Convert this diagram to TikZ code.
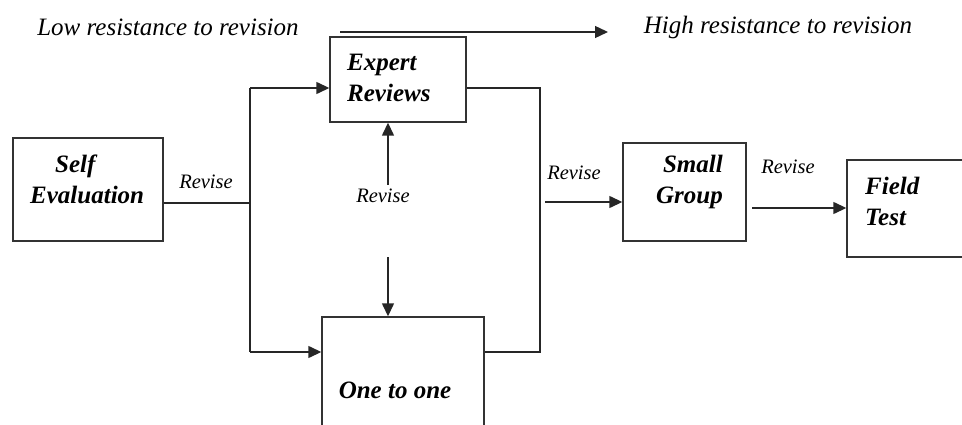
\documentclass[tikz,border=0pt]{standalone}
\usepackage{fontspec}
\setmainfont{Liberation Serif}
\usetikzlibrary{arrows.meta}

\begin{document}
\begin{tikzpicture}[x=1pt,y=-1pt,
        box/.style={draw=black!80, line width=1.4pt, rectangle, inner sep=0pt},
        lbl/.style={font=\fontsize{25}{31}\selectfont\bfseries\itshape, inner sep=0pt},
        rev/.style={font=\fontsize{20.5}{24}\selectfont\itshape, inner sep=0pt},
        conn/.style={draw=black!85, line width=1.4pt},
        arr/.style={conn, -{Triangle[length=13pt,width=12pt]}}]
        \useasboundingbox (0,0) rectangle (962,425);

        % boxes
        \node[box, minimum width=150pt, minimum height=103pt] (self) at (88,189.5) {};
        \node[box, minimum width=136pt, minimum height=85pt] (expert) at (398,79.5) {};
        \node[box, minimum width=162pt, minimum height=130pt] (one) at (403,382) {};
        \node[box, minimum width=123pt, minimum height=98pt] (small) at (684.5,192) {};
        \node[box, minimum width=140pt, minimum height=97pt] (field) at (917,208.5) {};

        % texts in the boxes
        \node[lbl, anchor=west, align=left] (selftxt) at (30,179) {\hspace{25pt}Self\\Evaluation};
        \node[lbl, anchor=west, align=left] (experttxt) at (347,77.5) {Expert\\Reviews};
        \node[lbl] (onetxt) at (395,390) {One to one};
        \node[lbl, anchor=east, align=right] (smalltxt) at (723,181.5) {Small\\Group};
        \node[lbl, anchor=west, align=left] (fieldtxt) at (865,201) {Field\\Test};

        % top line
        \node[rev, font=\fontsize{25}{30}\selectfont\itshape] (low) at (168,27) {Low resistance to revision};
        \node[rev, font=\fontsize{25}{30}\selectfont\itshape] (high) at (778,27) {High resistance to revision};
        \coordinate (t1) at (340,32);
        \coordinate (t2) at (608,32);
        \draw[arr] (t1) -- (t2);

        % Revise
        \node[rev] (rev1) at (206,182) {Revise};
        \node[rev] (rev2) at (383,196) {Revise};
        \node[rev] (rev3) at (574,173) {Revise};
        \node[rev] (rev4) at (788,167) {Revise};

        \coordinate (j1) at (250,203);
        \coordinate (jt) at (250,88);
        \coordinate (jb) at (250,352);
        \draw[conn] (self.east |- j1) -- (j1);
        \draw[conn] (jt) -- (jb);
        \draw[arr] (jt) -- (expert.west |- jt);
        \draw[arr] (jb) -- (one.west |- jb);

        \coordinate (ru) at (388,185);
        \coordinate (rd) at (388,257);
        \draw[arr] (ru) -- (ru |- expert.south);
        \draw[arr] (rd) -- (rd |- one.north);

        \coordinate (kt) at (540,88);
        \coordinate (kb) at (540,352);
        \draw[conn] (expert.east |- kt) -- (kt) -- (kb) -- (one.east |- kb);

        \coordinate (s1) at (545,202);
        \coordinate (f1) at (752,208);
        \draw[arr] (s1) -- (small.west |- s1);
        \draw[arr] (f1) -- (field.west |- f1);
    \end{tikzpicture}
\end{document}
